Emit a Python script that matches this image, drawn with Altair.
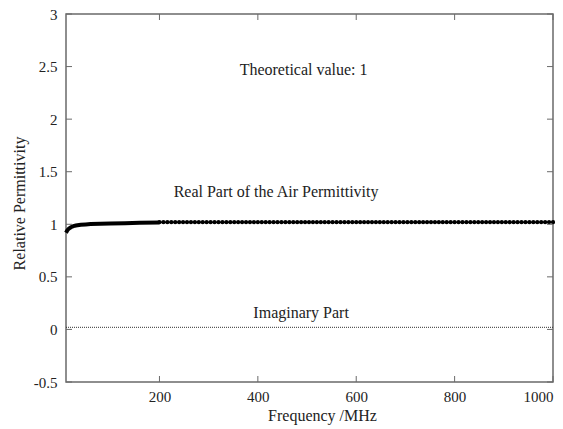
import altair as alt
import pandas as pd

# Real part: low-frequency rise
real_freq_low = [10, 13, 16, 20, 25, 30, 40, 50, 60, 80, 100, 130, 160, 200]
real_val_low = [0.92, 0.945, 0.96, 0.972, 0.982, 0.988, 0.995, 0.999, 1.002, 1.006, 1.008, 1.011, 1.014, 1.017]

# Real part: flat high-frequency measured points (markers)
real_freq_high = list(range(200, 1001, 8))
real_val_high = [1.02] * len(real_freq_high)

# Imaginary part
imag_freq = [10, 100, 200, 300, 400, 500, 600, 700, 800, 900, 1000]
imag_val = [0.02, 0.02, 0.02, 0.02, 0.02, 0.02, 0.02, 0.02, 0.02, 0.02, 0.02]

x_ticks = [200, 400, 600, 800, 1000]
y_ticks = [-0.5, 0, 0.5, 1, 1.5, 2, 2.5, 3]

labels_text = ["Theoretical value: 1", "Real Part of the Air Permittivity", "Imaginary Part"]
labels_x = [493, 437, 488]
labels_y = [2.467, 1.307, 0.156]

FONT = "Liberation Serif"
FRAME = "#6a6a6a"
W, H = 487, 368
TK = 6

low_df = pd.DataFrame({"f": real_freq_low, "v": real_val_low})
high_df = pd.DataFrame({"f": real_freq_high, "v": real_val_high})
imag_df = pd.DataFrame({"f": imag_freq, "v": imag_val})
lab_df = pd.DataFrame({"t": labels_text, "x": labels_x, "y": labels_y})
xt_df = pd.DataFrame({"f": x_ticks})
yt_df = pd.DataFrame({"v": y_ticks})

xscale = alt.Scale(domain=[10, 1000], nice=False, zero=False)
yscale = alt.Scale(domain=[-0.5, 3], nice=False, zero=False)

axis_common = dict(
    grid=False, ticks=False, domain=False,
    labelFont=FONT, labelFontSize=15, labelColor="#222",
    titleFont=FONT, titleFontSize=16, titleFontWeight="normal", titleColor="#222",
)

low = alt.Chart(low_df).mark_line(color="black", strokeWidth=4).encode(
    x=alt.X("f:Q", scale=xscale, axis=alt.Axis(values=x_ticks, title="Frequency /MHz",
                                              orient="bottom", labelPadding=7,
                                              labelExpr="toString(datum.value)",
                                              titleX=256, titleY=33, titleBaseline="middle",
                                              **axis_common)),
    y=alt.Y("v:Q", scale=yscale, axis=alt.Axis(values=y_ticks, title="Relative Permittivity",
                                              orient="left", labelPadding=9,
                                              labelExpr="toString(datum.value)",
                                              titleX=-47, titleY=189, titleBaseline="middle",
                                              **axis_common)),
)

high = alt.Chart(high_df).mark_point(filled=True, color="black", size=18, opacity=1).encode(
    x=alt.X("f:Q", scale=xscale), y=alt.Y("v:Q", scale=yscale))

high_line = alt.Chart(high_df).mark_line(color="black", strokeWidth=1.5).encode(
    x=alt.X("f:Q", scale=xscale), y=alt.Y("v:Q", scale=yscale))

imag = alt.Chart(imag_df).mark_line(color="#333", strokeWidth=1, strokeDash=[1, 1]).encode(
    x=alt.X("f:Q", scale=xscale), y=alt.Y("v:Q", scale=yscale))

texts = alt.Chart(lab_df).mark_text(font=FONT, fontSize=16, color="#222", align="center",
                                    baseline="middle").encode(
    x=alt.X("x:Q", scale=xscale), y=alt.Y("y:Q", scale=yscale), text="t:N")

tick_style = dict(color=FRAME, strokeWidth=1)
xt_bottom = alt.Chart(xt_df).mark_rule(**tick_style).encode(
    x=alt.X("f:Q", scale=xscale), y=alt.value(H), y2=alt.value(H - TK))
xt_top = alt.Chart(xt_df).mark_rule(**tick_style).encode(
    x=alt.X("f:Q", scale=xscale), y=alt.value(0), y2=alt.value(TK))
yt_left = alt.Chart(yt_df).mark_rule(**tick_style).encode(
    y=alt.Y("v:Q", scale=yscale), x=alt.value(0), x2=alt.value(TK))
yt_right = alt.Chart(yt_df).mark_rule(**tick_style).encode(
    y=alt.Y("v:Q", scale=yscale), x=alt.value(W), x2=alt.value(W - TK))

chart = alt.layer(low, high_line, high, imag, texts, xt_bottom, xt_top, yt_left, yt_right).properties(
    width=W, height=H,
    autosize=alt.AutoSizeParams(type="none"),
    padding={"left": 58, "top": 6, "right": 2, "bottom": 46},
).configure_view(stroke=FRAME, strokeWidth=1.5)

chart.save("out.html", embed_options={"renderer": "svg", "actions": False})
